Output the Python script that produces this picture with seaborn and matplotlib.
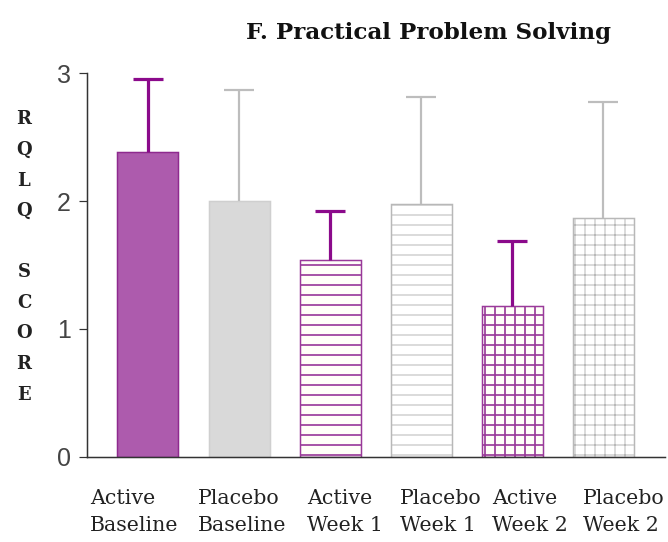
import matplotlib
matplotlib.use("Agg")
import matplotlib.pyplot as plt
import matplotlib.transforms as mtransforms
import seaborn as sns

# RQLQ practical problem solving scores by group and visit
groups = ["Active\nBaseline", "Placebo\nBaseline", "Active\nWeek 1",
          "Placebo\nWeek 1", "Active\nWeek 2", "Placebo\nWeek 2"]
means = [2.38, 2.00, 1.54, 1.98, 1.18, 1.87]
sd = [0.57, 0.87, 0.38, 0.83, 0.51, 0.90]
y_ticks = [0, 1, 2, 3]

PURPLE_FILL = "#AD5BAD"
PURPLE_EDGE = "#8E2A8E"
PURPLE_HATCH = "#9A3A9A"
PURPLE_ERR = "#8B0A8B"
GRAY_FILL = "#D9D9D9"
GRAY_EDGE = "#B8B8B8"
GRAY_ERR = "#BDBDBD"

DPI = 60
PT = 72 / DPI  # points per pixel

sns.set_theme(style="white")
plt.rcParams["font.family"] = ["DejaVu Serif"]

fig = plt.figure(figsize=(668 / DPI, 542 / DPI), dpi=DPI, facecolor="white")
ax = fig.add_axes([87 / 668, (542 - 457) / 542, (665 - 87) / 668, (457 - 73) / 542])

sns.barplot(x=groups, y=means, hue=groups, legend=False, width=0.67,
            palette=["white"] * len(groups), saturation=1, ax=ax)

styles = [
    dict(face=PURPLE_FILL, edge=PURPLE_EDGE, hatch=None, hlw=0),
    dict(face=GRAY_FILL, edge="#CFCFCF", hatch=None, hlw=0),
    dict(face="#FFFFF8", edge=PURPLE_HATCH, hatch="-", hlw=1.7),
    dict(face="white", edge=GRAY_EDGE, hatch="-", hlw=1.0),
    dict(face="#FFFFF8", edge=PURPLE_HATCH, hatch="+", hlw=1.7),
    dict(face="white", edge=GRAY_EDGE, hatch="+", hlw=1.0),
]
for patch, st in zip(ax.patches, styles):
    patch.set_facecolor(st["face"])
    patch.set_edgecolor(st["edge"])
    patch.set_linewidth(1.5 * PT)
    if st["hatch"]:
        patch.set_hatch(st["hatch"])
        if hasattr(patch, "set_hatch_linewidth"):
            patch.set_hatch_linewidth(st["hlw"] * PT)

# upper-only error bars (lower cap hidden)
for i, (m, s) in enumerate(zip(means, sd)):
    active = i % 2 == 0
    lw = (3.2 if active else 2.2) * PT
    _, caps, _ = ax.errorbar(i, m, yerr=[[0], [s]], fmt="none",
                             ecolor=PURPLE_ERR if active else GRAY_ERR,
                             elinewidth=lw, capthick=lw,
                             capsize=15 * PT, zorder=3)
    if len(caps) == 2:
        caps[0].set_visible(False)

ax.set_xlim(-0.67, 5.68)
ax.set_ylim(0, 3)
ax.set_yticks(y_ticks)
ax.set_yticklabels([str(t) for t in y_ticks], family="Liberation Sans",
                   fontsize=25 * PT, color="#444444")
ax.tick_params(axis="y", left=True, length=8 * PT, width=1.2 * PT,
               color="#333333", pad=8 * PT)
ax.tick_params(axis="x", bottom=False, pad=27 * PT)

# category labels: left-aligned lines, nudged sideways (pixels)
label_shift = [-14, 3, 15, 20, 18, 21]
for lbl, dx in zip(ax.get_xticklabels(), label_shift):
    lbl.set_fontsize(20.5 * PT)
    lbl.set_color("#222222")
    lbl.set_linespacing(1.55)
    lbl.set_multialignment("left")
    lbl.set_transform(lbl.get_transform() +
                      mtransforms.ScaledTranslation(dx / DPI, 0, fig.dpi_scale_trans))

for side in ("top", "right"):
    ax.spines[side].set_visible(False)
for side in ("left", "bottom"):
    ax.spines[side].set_color("#333333")
    ax.spines[side].set_linewidth(1.5 * PT)

fig.text(428 / 668, 1 - 33 / 542, "F. Practical Problem Solving",
         ha="center", va="center", fontsize=23 * PT, fontweight="bold",
         color="#111111")
fig.text(24 / 668, 1 - 257 / 542, "R\nQ\nL\nQ\n\nS\nC\nO\nR\nE",
         ha="center", va="center", fontsize=18 * PT, fontweight="bold",
         color="#222222", linespacing=1.9)

fig.savefig("out.png", dpi=DPI, facecolor="white")
